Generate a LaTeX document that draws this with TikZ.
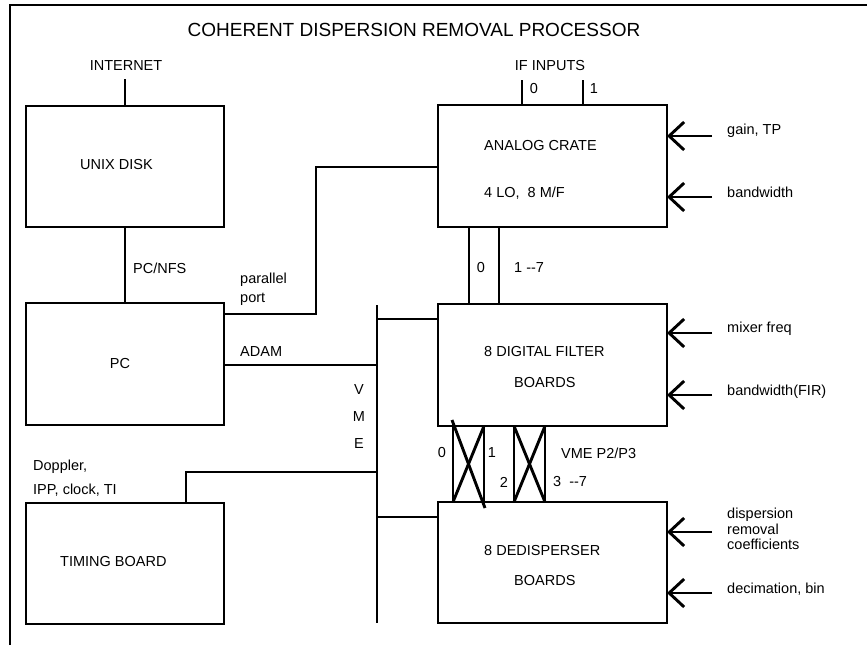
\documentclass[tikz,border=0pt]{standalone}
\usepackage{fontspec}
\setmainfont{Liberation Sans}
\usetikzlibrary{arrows.meta}
\begin{document}
\begin{tikzpicture}[x=1pt,y=-1pt,
  wire/.style={line width=2.9pt},
  framew/.style={line width=2.2pt},
  blk/.style={draw,line width=2.9pt,rectangle,inner sep=0pt,outer sep=0pt},
  lbl/.style={inner sep=0pt,font=\fontsize{14.5}{15.5}\selectfont},
  ttl/.style={inner sep=0pt,font=\fontsize{19}{22}\selectfont},
  inarrow/.style={wire,-{Straight Barb[length=15pt,width=28pt]}}]
\useasboundingbox (0,0) rectangle (867,645);
% frame
\coordinate (fbl) at (10,645);
\coordinate (ftl) at (10,5);
\coordinate (ftr) at (867,5);
\draw[framew] (fbl) -- (ftl) -- (ftr);
\node[ttl] (title) at (414,30) {COHERENT DISPERSION REMOVAL PROCESSOR};
% boxes
\node[blk,minimum width=198pt,minimum height=121pt] (unix) at (125,166.5) {};
\node[blk,minimum width=198pt,minimum height=122pt] (pc) at (125,364) {};
\node[blk,minimum width=198pt,minimum height=121pt] (timing) at (125,563.5) {};
\node[blk,minimum width=229pt,minimum height=122pt] (analog) at (552.5,166) {};
\node[blk,minimum width=229pt,minimum height=122pt] (dfilter) at (552.5,365) {};
\node[blk,minimum width=229pt,minimum height=121pt] (dedisp) at (552.5,562.5) {};
% box texts
\node[lbl,anchor=west] (tunix) at (80,165) {UNIX DISK};
\node[lbl] (tpc) at (120,364) {PC};
\node[lbl,anchor=west] (ttiming) at (60,562) {TIMING BOARD};
\node[lbl,anchor=west] (tanalog) at (484,146) {ANALOG CRATE};
\node[lbl,anchor=west] (tanalogb) at (484,193) {4 LO,\ \ 8 M/F};
\node[lbl,anchor=west] (tdf) at (484,352) {8 DIGITAL FILTER};
\node[lbl,anchor=west] (tdfb) at (514,383) {BOARDS};
\node[lbl,anchor=west] (tdd) at (484,551) {8 DEDISPERSER};
\node[lbl,anchor=west] (tddb) at (514,581) {BOARDS};
% internet
\coordinate (inet) at (125,79);
\node[lbl] (linet) at (126,66) {INTERNET};
\draw[wire] (inet) -- (unix.north);
% PC/NFS
\draw[wire] (unix.south) -- (pc.north);
\node[lbl,anchor=west] (lnfs) at (133,268) {PC/NFS};
% parallel port
\coordinate (pp1) at (316,314);
\coordinate (pp2) at (316,167);
\draw[wire] (pp1 -| pc.east) -- (pp1) -- (pp2) -- (pp2 -| analog.west);
\node[lbl,anchor=west] (lpar) at (240,280) {parallel};
\node[lbl,anchor=west] (lport) at (240,299) {port};
% VME bus
\coordinate (vtop) at (377,305);
\coordinate (vbot) at (377,623);
\draw[wire] (vtop) -- (vbot);
\node[lbl] (lv) at (359,390) {V};
\node[lbl] (lm) at (359,417) {M};
\node[lbl] (le) at (359,444) {E};
% ADAM
\coordinate (adam) at (377,365);
\draw[wire] (adam -| pc.east) -- (adam);
\node[lbl,anchor=west] (ladam) at (240,352) {ADAM};
% bus to boards
\coordinate (b1) at (377,319);
\draw[wire] (b1) -- (b1 -| dfilter.west);
\coordinate (b2) at (377,517);
\draw[wire] (b2) -- (b2 -| dedisp.west);
% timing link
\coordinate (t1) at (186,472);
\draw[wire] (t1 |- timing.north) -- (t1) -- (t1 -| vtop);
\node[lbl,anchor=west] (ldop) at (33,467) {Doppler,};
\node[lbl,anchor=west] (lipp) at (33,490) {IPP, clock, TI};
% IF inputs
\coordinate (if0) at (522,80);
\coordinate (if1) at (583,80);
\draw[wire] (if0) -- (if0 |- analog.north);
\draw[wire] (if1) -- (if1 |- analog.north);
\node[lbl] (lif) at (550,66) {IF INPUTS};
\node[lbl] (lif0) at (534,89) {0};
\node[lbl] (lif1) at (594,89) {1};
% crate to filter
\coordinate (c0) at (469,268);
\coordinate (c1) at (499,268);
\draw[wire] (c0 |- analog.south) -- (c0 |- dfilter.north);
\draw[wire] (c1 |- analog.south) -- (c1 |- dfilter.north);
\node[lbl] (lc0) at (481,268) {0};
\node[lbl,anchor=west] (lc1) at (514,268) {1 -{}-7};
% filter to dedisperser, crossed
\coordinate (x0) at (453,464);
\coordinate (x1) at (484,464);
\coordinate (x2) at (514,464);
\coordinate (x3) at (545,464);
\foreach \p in {x0,x1,x2,x3}{
  \draw[wire] (\p |- dfilter.south) -- (\p |- dedisp.north);
}
\coordinate (d0a) at (452,420);
\coordinate (d0b) at (485,508);
\draw[wire] (d0a) -- (d0b);
\draw[wire] (x1 |- dfilter.south) -- (x0 |- dedisp.north);
\draw[wire] (x2 |- dfilter.south) -- (x3 |- dedisp.north);
\draw[wire] (x3 |- dfilter.south) -- (x2 |- dedisp.north);
\node[lbl] (lx0) at (442,453) {0};
\node[lbl] (lx1) at (492,453) {1};
\node[lbl] (lx2) at (504,482) {2};
\node[lbl,anchor=west] (lx3) at (553,482) {3\ \ -{}-7};
\node[lbl,anchor=west] (lp23) at (561,453) {VME P2/P3};
% right-side inputs
\coordinate (a1) at (712,136);
\coordinate (a2) at (712,197);
\coordinate (a3) at (712,333);
\coordinate (a4) at (712,395);
\coordinate (a5) at (712,532);
\coordinate (a6) at (712,593);
\draw[inarrow] (a1) -- (a1 -| analog.east);
\draw[inarrow] (a2) -- (a2 -| analog.east);
\draw[inarrow] (a3) -- (a3 -| dfilter.east);
\draw[inarrow] (a4) -- (a4 -| dfilter.east);
\draw[inarrow] (a5) -- (a5 -| dedisp.east);
\draw[inarrow] (a6) -- (a6 -| dedisp.east);
\node[lbl,anchor=west] (l1) at (727,131) {gain, TP};
\node[lbl,anchor=west] (l2) at (727,192) {bandwidth};
\node[lbl,anchor=west] (l3) at (727,329) {mixer freq};
\node[lbl,anchor=west] (l4) at (727,392) {bandwidth(FIR)};
\node[lbl,anchor=west,align=left] (l5) at (727,529) {dispersion\\removal\\coefficients};
\node[lbl,anchor=west] (l6) at (727,589) {decimation, bin};
\end{tikzpicture}
\end{document}
